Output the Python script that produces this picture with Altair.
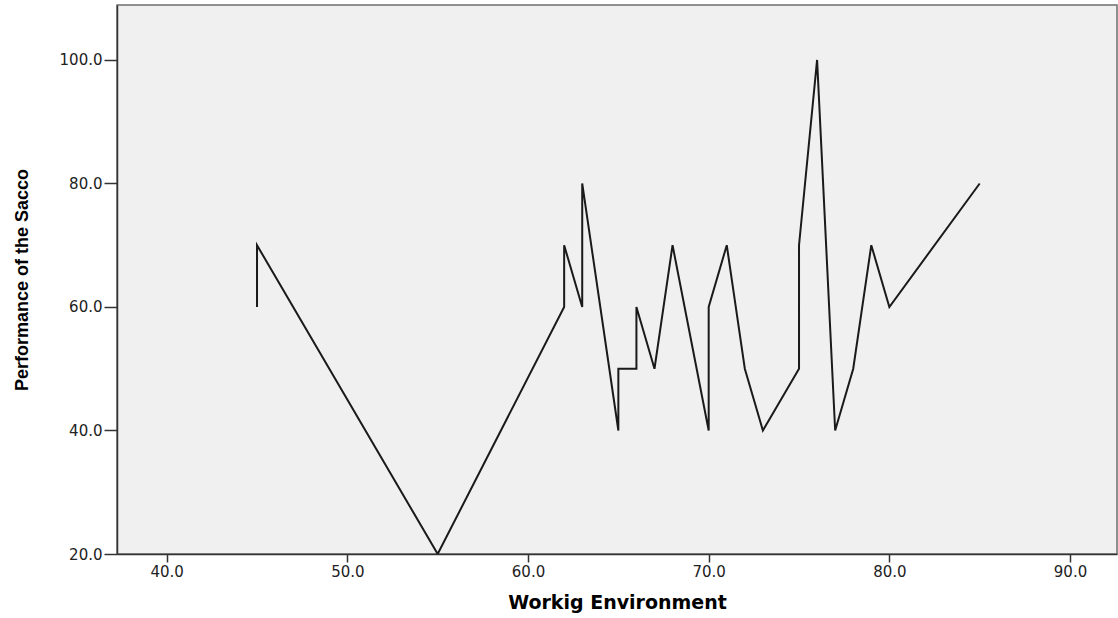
import altair as alt
import pandas as pd

# Data (x = Workig Environment, y = Performance of the Sacco)
work_env = [45, 45, 55, 62, 62, 63, 63, 65, 65, 66, 66, 67, 68, 70, 70, 71, 72, 73, 75, 75, 76, 77, 78, 79, 80, 85]
performance = [60, 70, 20, 60, 70, 60, 80, 40, 50, 50, 60, 50, 70, 40, 60, 70, 50, 40, 50, 70, 100, 40, 50, 70, 60, 80]
x_ticks = [40, 50, 60, 70, 80, 90]
y_ticks = [20, 40, 60, 80, 100]

df = pd.DataFrame({
    "order": list(range(len(work_env))),
    "x": work_env,
    "y": performance,
})

chart = (
    alt.Chart(df)
    .mark_line(color="#1a1a1a", strokeWidth=2, clip=True)
    .encode(
        x=alt.X(
            "x:Q",
            title="Workig Environment",
            scale=alt.Scale(domain=[37.25, 92.6], nice=False, zero=False),
            axis=alt.Axis(
                values=x_ticks,
                format=".1f",
                grid=False,
                domainColor="#333333",
                domainWidth=1.5,
                tickColor="#333333",
                tickWidth=1.5,
                tickSize=8,
                labelPadding=2,
                labelFont="DejaVu Sans",
                labelFontSize=15,
                labelColor="#222222",
                titleFont="DejaVu Sans",
                titleFontSize=19,
                titleFontWeight="bold",
                titleColor="#000000",
                titleBaseline="alphabetic",
                titleY=54,
            ),
        ),
        y=alt.Y(
            "y:Q",
            title="Performance of the Sacco",
            scale=alt.Scale(domain=[20, 108.9], nice=False, zero=False),
            axis=alt.Axis(
                values=y_ticks,
                format=".1f",
                grid=False,
                domainColor="#333333",
                domainWidth=1.5,
                tickColor="#333333",
                tickWidth=1.5,
                tickSize=13,
                labelPadding=2,
                labelFont="DejaVu Sans",
                labelFontSize=15,
                labelColor="#222222",
                titleFont="Liberation Sans",
                titleFontSize=18,
                titleFontWeight="bold",
                titleColor="#000000",
                titleAngle=270,
                titleBaseline="middle",
                titleX=-95,
            ),
        ),
        order="order:Q",
    )
    .properties(
        width=1000,
        height=549,
        autosize=alt.AutoSizeParams(type="none"),
        padding={"left": 117, "top": 5, "right": 1, "bottom": 64},
        background="#ffffff",
    )
    .configure_view(fill="#f0f0f0", stroke="#6e6e6e", strokeWidth=1.5)
)

chart.save("out.html", embed_options={"renderer": "svg", "actions": False})
